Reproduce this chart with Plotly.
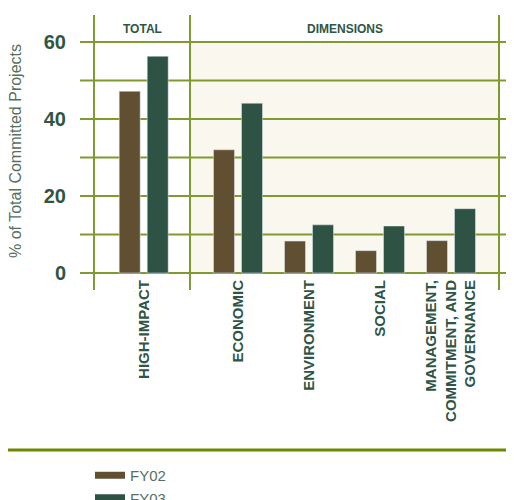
import plotly.graph_objects as go

# ---- data ----
total_cats = ["HIGH-IMPACT"]
dim_cats = ["ECONOMIC", "ENVIRONMENT", "SOCIAL", "MANAGEMENT,<br>COMMITMENT, AND<br>GOVERNANCE"]
fy02_total = [47.2]
fy03_total = [56.3]
fy02_dim = [32.0, 8.3, 5.8, 8.4]
fy03_dim = [44.1, 12.5, 12.2, 16.7]
series_names = ["FY02", "FY03"]
y_tickvals = [0, 10, 20, 30, 40, 50, 60]
y_ticktext = ["0", "", "20", "", "40", "", "60"]
panel_titles = ["TOTAL", "DIMENSIONS"]

# ---- styles ----
C02 = "#614f32"
C03 = "#2e5243"
OLIVE = "#7f9a2e"
TXT = "#2f5545"
TXT2 = "#56705f"
FONT = "Liberation Sans, Arial, sans-serif"

OFF = 8  # page offset
W, H = 514, 500
ML, MT = 94 - OFF, 15 - OFF
MR = W - (499 - OFF)
MB = H - (281 - OFF)
PW = W - ML - MR
PH = H - MT - MB
BOT = H - MB  # pixel y of plot bottom (figure coords)
split = 96 / PW

def py(ref_y):
    """reference pixel y -> paper y"""
    return (BOT - (ref_y - OFF)) / PH

def px(ref_x):
    return ((ref_x - OFF) - ML) / PW

fig = go.Figure()
fig.add_trace(go.Bar(x=total_cats, y=fy02_total, marker_color=C02, xaxis="x", yaxis="y",
                     name=series_names[0], showlegend=False, offsetgroup="a"))
fig.add_trace(go.Bar(x=total_cats, y=fy03_total, marker_color=C03, xaxis="x", yaxis="y",
                     name=series_names[1], showlegend=False, offsetgroup="b"))
fig.add_trace(go.Bar(x=dim_cats, y=fy02_dim, marker_color=C02, xaxis="x2", yaxis="y",
                     name=series_names[0], showlegend=False, offsetgroup="a"))
fig.add_trace(go.Bar(x=dim_cats, y=fy03_dim, marker_color=C03, xaxis="x2", yaxis="y",
                     name=series_names[1], showlegend=False, offsetgroup="b"))
# legend entries
for nm, c in zip(series_names, [C02, C03]):
    fig.add_trace(go.Scatter(x=[None], y=[None], mode="lines", line=dict(color=c, width=7),
                             name=nm, showlegend=True))

xfont = dict(family=FONT, size=15, color=TXT)
fig.update_layout(
    width=W, height=H,
    margin=dict(l=ML, r=MR, t=MT, b=MB, autoexpand=False),
    paper_bgcolor="white", plot_bgcolor="rgba(0,0,0,0)",
    barmode="group", bargap=0.211, bargroupgap=0.25,
    xaxis=dict(domain=[0, split], range=[-0.7, 0.652], showgrid=False, zeroline=False,
               showline=False, ticks="", tickangle=-90, tickfont=xfont, ticklabelstandoff=-5,
               tickvals=total_cats, ticktext=[f"<b>{c}</b>" for c in total_cats]),
    xaxis2=dict(domain=[split, 1], range=[-0.676, 3.676], anchor="y", showgrid=False,
                zeroline=False, showline=False, ticks="", tickangle=-90, tickfont=xfont,
                ticklabelstandoff=-5,
                tickvals=dim_cats, ticktext=[f"<b>{c}</b>" for c in dim_cats]),
    yaxis=dict(range=[-2.08, 67.01], tickvals=y_tickvals,
               ticktext=[f"<b>{t}</b>" if t else "" for t in y_ticktext],
               showgrid=False, zeroline=False, showline=False,
               ticks="outside", ticklen=14, tickcolor="rgba(0,0,0,0)", ticklabelstandoff=9,
               tickfont=dict(family=FONT, size=20, color=TXT)),
    legend=dict(x=px(90), xanchor="left", y=py(459), yanchor="top",
                font=dict(family=FONT, size=15, color=TXT2), bgcolor="rgba(0,0,0,0)",
                tracegroupgap=0),
    showlegend=True,
)

shapes = []
# cream background for dimensions panel
shapes.append(dict(type="rect", xref="x2 domain", x0=0, x1=1, yref="y", y0=0, y1=60,
                   fillcolor="#faf7ef", line=dict(width=0), layer="below"))
# gridlines
for v in y_tickvals:
    shapes.append(dict(type="line", xref="paper", x0=-14 / PW, x1=1 + MR / PW, yref="y",
                       y0=v, y1=v, line=dict(color=OLIVE, width=2), layer="below"))
# vertical separators
for xv in [0, split, 1]:
    shapes.append(dict(type="line", xref="paper", x0=xv, x1=xv, yref="paper",
                       y0=py(290), y1=1, line=dict(color=OLIVE, width=2)))
# bottom rule
shapes.append(dict(type="line", xref="paper", x0=-ML / PW, x1=1 + MR / PW, yref="paper",
                   y0=py(450), y1=py(450), line=dict(color="#6b8a00", width=3)))
fig.update_layout(shapes=shapes)

ann = []
for ref, t in zip(["x domain", "x2 domain"], panel_titles):
    ann.append(dict(xref=ref, x=0.5, yref="paper", y=py(29), text=f"<b>{t}</b>",
                    showarrow=False, font=dict(family=FONT, size=12, color=TXT),
                    xanchor="center", yanchor="middle"))
ann.append(dict(xref="paper", x=px(15.5), yref="paper", y=py(151.5),
                text="% of Total Committed Projects", textangle=-90, showarrow=False,
                font=dict(family=FONT, size=16, color=TXT2), xanchor="center", yanchor="middle"))
fig.update_layout(annotations=ann)

fig.write_html("out.html")
